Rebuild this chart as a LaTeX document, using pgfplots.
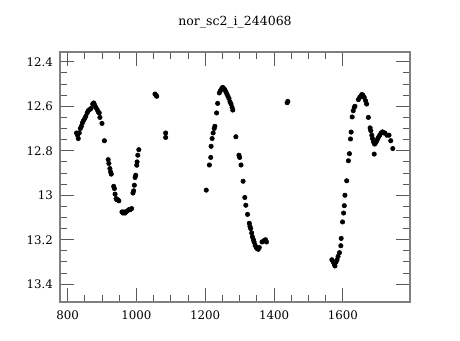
\documentclass[border=0pt]{standalone}
\usepackage{fontspec}
\setmainfont{DejaVu Serif}
\usepackage{pgfplots}
\pgfplotsset{compat=1.18}
\begin{document}
\begin{tikzpicture}
\useasboundingbox (0,0) rectangle (331.2pt,244.8pt);
\begin{axis}[
  at={(43.2pt,27.36pt)}, anchor=south west,
  scale only axis, width=252pt, height=180pt,
  xmin=778, xmax=1795, ymin=12.356, ymax=13.48, y dir=reverse,
  xtick={800,1000,1200,1400,1600},
  ytick={12.4,12.6,12.8,13,13.2,13.4},
  minor x tick num=3, minor y tick num=3,
  tick align=inside, xtick pos=both, ytick pos=both,
  major tick length=10pt, minor tick length=5pt,
  axis line style={black!50, line width=0.9pt},
  tick style={black!65, line width=0.7pt},
  ticklabel style={font=\fontsize{8.5}{10}\selectfont},
  xticklabel style={yshift=-3pt},
  yticklabel style={xshift=-1.5pt},
  /pgf/number format/assume math mode=true,
  /pgf/number format/1000 sep={},
  title={nor\_sc2\_i\_244068},
  title style={font=\fontsize{9}{11}\selectfont, at={(0.5,1)}, anchor=center, yshift=15.5pt},
]
\addplot[only marks, mark=*, mark size=1.6pt, black] coordinates {
(826,12.72) (829,12.73) (831,12.745) (834,12.72) (837,12.70) (840,12.69)
(843,12.675) (846,12.665) (850,12.655) (853,12.645) (857,12.63) (860,12.62)
(864,12.615) (868,12.61) (873,12.59) (876,12.585) (879,12.595) (882,12.605)
(886,12.615) (889,12.625) (892,12.63) (894,12.65) (900,12.677) (907,12.755)
(918,12.84) (920,12.857) (923,12.88) (925,12.895) (927,12.905) (934,12.96)
(936,12.97) (938,12.995) (941,13.015) (943,13.02) (946,13.02) (949,13.025)
(958,13.075) (961,13.08) (964,13.075) (967,13.08) (970,13.075) (974,13.07)
(978,13.065) (982,13.065) (986,13.06) (990,12.99) (992,12.98) (994,12.955)
(996,12.92) (998,12.91) (1001,12.865) (1002,12.85) (1004,12.82) (1007,12.795)
(1054,12.545) (1057,12.55) (1059,12.555) (1085,12.72) (1085,12.74)
(1203,12.977) (1212,12.864) (1216,12.83) (1217,12.78) (1220,12.745) (1223,12.72)
(1226,12.70) (1228,12.69) (1233,12.63) (1236,12.587) (1241,12.54) (1244,12.53)
(1248,12.52) (1251,12.515) (1254,12.52) (1257,12.525) (1260,12.535) (1263,12.545)
(1266,12.555) (1269,12.565) (1272,12.58) (1275,12.59) (1278,12.605) (1280,12.617)
(1289,12.737) (1298,12.82) (1300,12.83) (1304,12.864) (1310,12.937) (1315,13.01)
(1318,13.045) (1323,13.086) (1328,13.126) (1330,13.14) (1332,13.15) (1335,13.17)
(1337,13.187) (1340,13.20) (1342,13.21) (1345,13.225) (1348,13.235) (1351,13.24)
(1354,13.243) (1357,13.235) (1365,13.21) (1370,13.205) (1375,13.20) (1378,13.21)
(1438,12.584) (1440,12.578)
(1568,13.29) (1572,13.30) (1575,13.31) (1577,13.318) (1580,13.30) (1583,13.29)
(1586,13.275) (1590,13.258) (1594,13.227) (1595,13.194) (1599,13.12) (1602,13.08)
(1604,13.047) (1606,13.0) (1611,12.935) (1616,12.845) (1619,12.813) (1622,12.747)
(1624,12.716) (1627,12.648) (1630,12.62) (1633,12.605) (1635,12.60) (1645,12.57)
(1649,12.56) (1652,12.555) (1655,12.547) (1658,12.55) (1662,12.56) (1666,12.575)
(1669,12.59) (1674,12.65) (1679,12.697) (1681,12.71) (1684,12.73) (1686,12.745)
(1689,12.76) (1691,12.815) (1692,12.77) (1694,12.767) (1697,12.76) (1700,12.75)
(1703,12.74) (1707,12.73) (1711,12.72) (1715,12.715) (1719,12.72) (1722,12.72)
(1728,12.73) (1734,12.73) (1739,12.755) (1745,12.79)
};
\end{axis}
\end{tikzpicture}
\end{document}
